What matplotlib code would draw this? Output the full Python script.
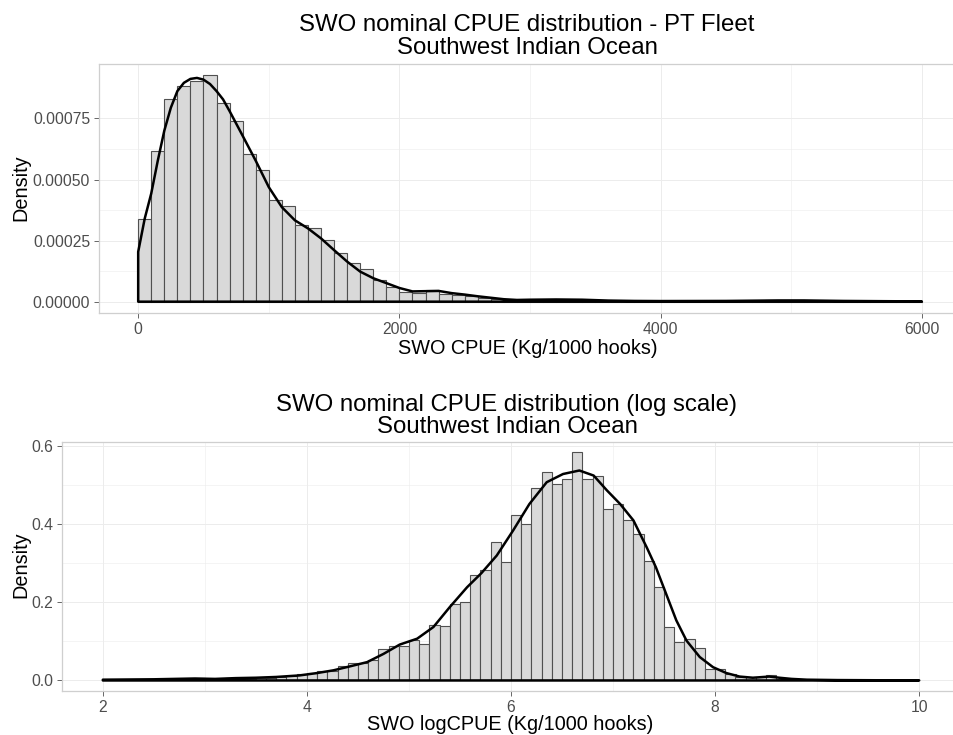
import numpy as np
import matplotlib
matplotlib.use("Agg")
import matplotlib.pyplot as plt

# ------------------------------------------------------------------ data
# Top panel: nominal CPUE (Kg/1000 hooks), histogram bins of 100 from 0
cpue_bin_start = 0
cpue_bin_width = 100
cpue_hist = [
    0.000340, 0.000615, 0.000830, 0.000882, 0.000902, 0.000927, 0.000814, 0.000740,
    0.000606, 0.000537, 0.000415, 0.000390, 0.000313, 0.000302, 0.000252, 0.000199,
    0.000158, 0.000134, 0.000089, 0.000062, 0.000040, 0.000034, 0.000049, 0.000031,
    0.000029, 0.000023, 0.000017, 0.000011, 0.000006, 0.000005, 0.000004, 0.000005,
    0.000007, 0.000008, 0.000006, 0.000004, 0.000003, 0.000002, 0.000002, 0.000001,
    0.000001, 0.000002, 0.000002, 0.000003, 0.000002, 0.000003, 0.000003, 0.000004,
    0.000005, 0.000006, 0.000005, 0.000004, 0.000003, 0.000003, 0.000002, 0.000002,
    0.000002, 0.000001, 0.000001, 0.000001,
]
cpue_dens_x = [0, 50, 100, 150, 200, 250, 300, 350, 400, 450, 500, 550, 600, 650,
               700, 800, 900, 1000, 1100, 1200, 1300, 1400, 1500, 1600, 1700, 1800,
               1900, 2000, 2100, 2200, 2300, 2400, 2500, 2600, 2700, 2800, 2900, 3000,
               3200, 3400, 3600, 3800, 4000, 4500, 4900, 5100, 5400, 5700, 6000]
cpue_dens_y = [0.000204, 0.000340, 0.000443, 0.000577, 0.000700, 0.000794, 0.000862,
               0.000896, 0.000912, 0.000916, 0.000909, 0.000891, 0.000862, 0.000828,
               0.000780, 0.000679, 0.000577, 0.000469, 0.000387, 0.000333, 0.000300,
               0.000259, 0.000211, 0.000164, 0.000123, 0.000096, 0.000076, 0.000056,
               0.000042, 0.000043, 0.000044, 0.000035, 0.000029, 0.000022, 0.000016,
               0.000010, 0.000007, 0.000008, 0.000009, 0.000008, 0.0000045, 0.000003,
               0.0000025, 0.000003, 0.000005, 0.000005, 0.000003, 0.000002, 0.000001]
cpue_xticks = [0, 2000, 4000, 6000]
cpue_xtick_labels = ["0", "2000", "4000", "6000"]
cpue_yticks = [0.0, 0.00025, 0.0005, 0.00075]
cpue_ytick_labels = ["0.00000", "0.00025", "0.00050", "0.00075"]

# Bottom panel: log CPUE, histogram bins of 0.1 from 2.0
log_bin_start = 2.0
log_bin_width = 0.1
log_hist = [
    0.001, 0.001, 0.001, 0.001, 0.0015, 0.0015, 0.002, 0.002, 0.003, 0.006,
    0.004, 0.003, 0.006, 0.005, 0.005, 0.006, 0.007, 0.009, 0.012, 0.016,
    0.019, 0.023, 0.024, 0.036, 0.045, 0.044, 0.052, 0.081, 0.088, 0.089,
    0.104, 0.094, 0.141, 0.139, 0.196, 0.200, 0.269, 0.284, 0.354, 0.303,
    0.425, 0.401, 0.493, 0.534, 0.504, 0.516, 0.585, 0.516, 0.525, 0.440,
    0.452, 0.410, 0.376, 0.306, 0.239, 0.138, 0.098, 0.107, 0.084, 0.030,
    0.030, 0.017, 0.009, 0.010, 0.010, 0.015, 0.005, 0.003, 0.002, 0.001,
    0.001, 0.001, 0.0005, 0.0005, 0.0005, 0.0005, 0.0005, 0.0005, 0.0005, 0.0005,
]
log_dens_x = [2.0, 2.5, 2.9, 3.1, 3.3, 3.5, 3.7, 3.93, 4.1, 4.26, 4.42, 4.59, 4.75,
              4.91, 5.08, 5.24, 5.40, 5.57, 5.71, 5.86, 6.02, 6.18, 6.35, 6.51, 6.67,
              6.81, 6.94, 7.07, 7.20, 7.33, 7.42, 7.52, 7.62, 7.72, 7.85, 7.98, 8.11,
              8.24, 8.37, 8.53, 8.63, 8.75, 8.9, 9.2, 9.6, 10.0]
log_dens_y = [0.002, 0.003, 0.005, 0.004, 0.006, 0.007, 0.009, 0.013, 0.019, 0.026,
              0.036, 0.047, 0.068, 0.092, 0.107, 0.137, 0.188, 0.239, 0.275, 0.320,
              0.384, 0.452, 0.508, 0.529, 0.538, 0.525, 0.487, 0.452, 0.410, 0.341,
              0.290, 0.222, 0.154, 0.102, 0.060, 0.034, 0.019, 0.010, 0.007, 0.010,
              0.007, 0.004, 0.002, 0.001, 0.0005, 0.0003]
log_xticks = [2, 4, 6, 8, 10]
log_xtick_labels = ["2", "4", "6", "8", "10"]
log_yticks = [0.0, 0.2, 0.4, 0.6]
log_ytick_labels = ["0.0", "0.2", "0.4", "0.6"]

titles_top = ["SWO nominal CPUE distribution - PT Fleet", "Southwest Indian Ocean"]
titles_bottom = ["SWO nominal CPUE distribution (log scale)", "Southwest Indian Ocean"]
xlabel_top = "SWO CPUE (Kg/1000 hooks)"
xlabel_bottom = "SWO logCPUE (Kg/1000 hooks)"
ylabel = "Density"

# ------------------------------------------------------------------ style
plt.rcParams["font.family"] = ["Liberation Sans", "DejaVu Sans"]
W, H = 954, 735
fig = plt.figure(figsize=(W / 100, H / 100), dpi=100)
fig.patch.set_facecolor("white")

BAR_FILL = "#d9d9d9"
BAR_EDGE = "#505050"
GRID = "#ececec"
BORDER = "#cfcfcf"
TICKCOL = "#4d4d4d"


def px_axes(l, t, r, b):
    return fig.add_axes([l / W, 1 - b / H, (r - l) / W, (b - t) / H])


def style_axes(ax, xticks, xtl, yticks, ytl, xlim, ylim):
    ax.set_xlim(*xlim)
    ax.set_ylim(*ylim)
    ax.set_xticks(xticks)
    ax.set_xticklabels(xtl)
    ax.set_yticks(yticks)
    ax.set_yticklabels(ytl)
    xminor = [(a + b) / 2 for a, b in zip(xticks[:-1], xticks[1:])]
    yminor = [(a + b) / 2 for a, b in zip(yticks[:-1], yticks[1:])]
    ax.set_xticks(xminor, minor=True)
    ax.set_yticks(yminor, minor=True)
    ax.tick_params(which="minor", length=0)
    ax.grid(True, which="major", color=GRID, lw=0.7, zorder=0)
    ax.grid(True, which="minor", color=GRID, lw=0.4, zorder=0)
    ax.set_axisbelow(True)
    for s in ax.spines.values():
        s.set_color(BORDER)
        s.set_linewidth(0.9)
    ax.tick_params(which="major", direction="out", length=3.5, width=0.6,
                   color=TICKCOL, labelcolor=TICKCOL, labelsize=11.3, pad=2.8)


def draw(ax, bin_start, bin_width, hist, dx, dy):
    lefts = bin_start + bin_width * np.arange(len(hist))
    ax.bar(lefts, hist, width=bin_width, align="edge", color=BAR_FILL,
           edgecolor=BAR_EDGE, linewidth=0.8, zorder=2)
    xs = [dx[0]] + list(dx) + [dx[-1]]
    ys = [0.0] + list(dy) + [0.0]
    ax.fill(xs, ys, fill=False, edgecolor="black", linewidth=1.8,
            joinstyle="round", zorder=3)


# ------------------------------------------------------------------ top
ax1 = px_axes(99, 64, 961, 313)
draw(ax1, cpue_bin_start, cpue_bin_width, cpue_hist, cpue_dens_x, cpue_dens_y)
style_axes(ax1, cpue_xticks, cpue_xtick_labels, cpue_yticks, cpue_ytick_labels,
           (-300, 6300), (-0.0000464, 0.000973))

# ------------------------------------------------------------------ bottom
ax2 = px_axes(62, 442, 960, 691)
draw(ax2, log_bin_start, log_bin_width, log_hist, log_dens_x, log_dens_y)
style_axes(ax2, log_xticks, log_xtick_labels, log_yticks, log_ytick_labels,
           (1.6, 10.4), (-0.027, 0.611))

# ------------------------------------------------------------------ labels
TFS = 17.3
LFS = 14.3
fig.text(527 / W, 1 - 25 / H, titles_top[0], ha="center", va="center", fontsize=TFS)
fig.text(527 / W, 1 - 48 / H, titles_top[1], ha="center", va="center", fontsize=TFS)
fig.text(507 / W, 1 - 405 / H, titles_bottom[0], ha="center", va="center", fontsize=TFS)
fig.text(507 / W, 1 - 427 / H, titles_bottom[1], ha="center", va="center", fontsize=TFS)

ax1.set_xlabel(xlabel_top, fontsize=LFS, va="center")
ax1.xaxis.set_label_coords(528 / W, 1 - 349 / H, transform=fig.transFigure)
ax2.set_xlabel(xlabel_bottom, fontsize=LFS, va="center")
ax2.xaxis.set_label_coords(510 / W, 1 - 724 / H, transform=fig.transFigure)

ax1.set_ylabel(ylabel, fontsize=LFS, va="center")
ax1.yaxis.set_label_coords(20.5 / W, 1 - 188 / H, transform=fig.transFigure)
ax2.set_ylabel(ylabel, fontsize=LFS, va="center")
ax2.yaxis.set_label_coords(20.5 / W, 1 - 565 / H, transform=fig.transFigure)

fig.savefig("out.png", dpi=100, facecolor="white")
